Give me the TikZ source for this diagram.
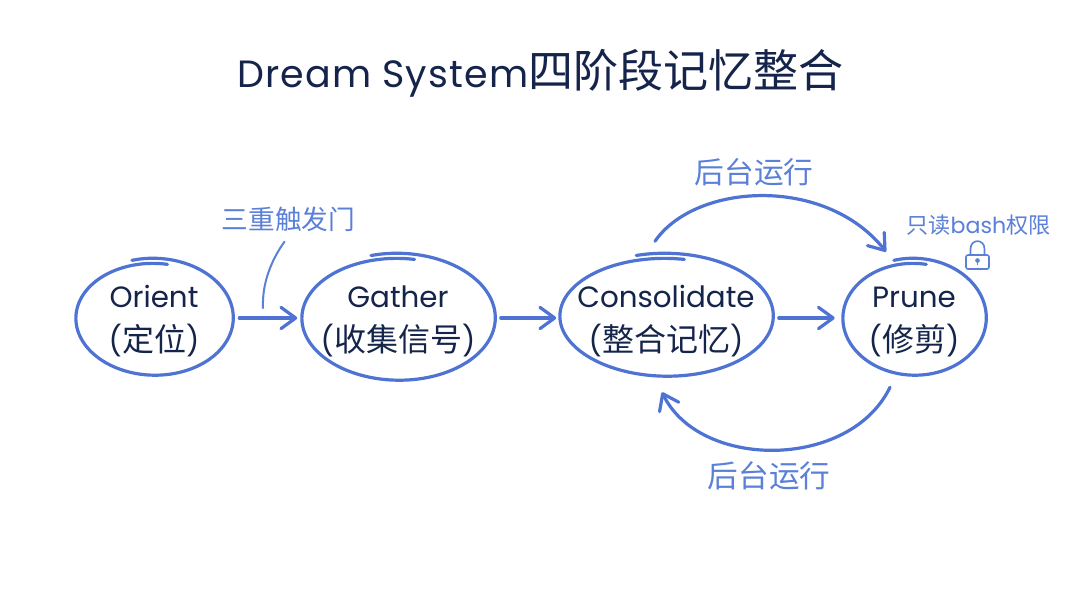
\documentclass[tikz,border=0pt]{standalone}
\usepackage{fontspec}
\setmainfont{Poppins}
\newfontfamily\cjk{Noto Sans CJK SC}
\usetikzlibrary{arrows.meta,shapes.geometric}
\definecolor{ink}{HTML}{15244A}
\definecolor{sky}{HTML}{4E73D3}
\definecolor{skytxt}{HTML}{5B80D8}
\newcommand{\fs}[1]{\fontsize{#1}{#1}\selectfont}
\newcommand{\handring}[4]{%
 \draw[ringline] plot[smooth,samples=70,domain=-106:280] ({#1+(#3+1-2.5*(\x+106)/386)*cos(\x)},{#2+(#4+2-5.5*(\x+106)/386)*sin(\x)});}
\newcommand{\stagetext}[2]{\rule{0pt}{17pt}#1\\[11pt]({\cjk\fs{24}#2})}
\tikzset{
 ringline/.style={draw=sky,line width=2.4pt,line cap=round,line join=round},
 stage/.style={ellipse,inner sep=0pt},
 stagelabel/.style={inner sep=0pt,align=center,text=ink,font=\fs{22},yshift=-2.5pt},
 flow/.style={draw=sky,line width=2.4pt,line cap=round,-{Straight Barb[length=11pt,width=16pt,line width=2.4pt,round]}},
 note/.style={text=skytxt,inner sep=0pt},
 leader/.style={draw=skytxt,line width=1.5pt,line cap=round},
 lockline/.style={draw=skytxt,line width=1.2pt,line join=round}
}
\begin{document}
\begin{tikzpicture}[x=0.75pt,y=-0.75pt]
\useasboundingbox (0,0) rectangle (1080,589);
\fill[white] (0,0) rectangle (1080,589);
\node[text=ink,inner sep=0pt] (title) at (540.5,73) {\fs{28.5}\addfontfeatures{LetterSpace=3}Dream System{\cjk\fs{33.8}四阶段记忆整合}};
\node[stage,minimum width=158*0.75pt,minimum height=116*0.75pt,label={[stagelabel]center:\stagetext{Orient}{定位}}] (orient) at (154,318) {};
\node[stage,minimum width=195*0.75pt,minimum height=126*0.75pt,label={[stagelabel]center:\stagetext{Gather}{收集信号}}] (gather) at (398,318) {};
\node[stage,minimum width=213*0.75pt,minimum height=122*0.75pt,label={[stagelabel,yshift=-1.5pt]center:\stagetext{Consolidate}{整合记忆}}] (cons) at (666,316) {};
\node[stage,minimum width=144*0.75pt,minimum height=116*0.75pt,label={[stagelabel]center:\stagetext{Prune}{修剪}}] (prune) at (914,318) {};
\handring{154}{318}{79}{58}
\handring{398}{318}{97}{63}
\handring{666}{316}{107}{61}
\handring{914}{318}{72}{58}
\node[note] (trig) at (288.5,219) {\cjk\fs{20}三重触发门};
\node[note] (bgtop) at (754,172) {\cjk\fs{22.3}后台运行};
\node[note] (bgbot) at (769,476) {\cjk\fs{23}后台运行};
\node[note] (ro) at (978.5,225) {\fs{16.6}{\cjk 只读}bash{\cjk 权限}};
\draw[flow] ([shift={(6,0)}]orient.east) -- ([shift={(-3,0)}]gather.west);
\draw[flow] ([shift={(5,0)}]gather.east) -- ([shift={(-3,2)}]cons.west);
\draw[flow] ([shift={(6,2)}]cons.east) -- ([shift={(-7,0)}]prune.west);
\draw[flow] ([shift={(-11,-13.5)}]cons.north) .. controls (695,183) and (825,175) .. ([shift={(-28,-8)}]prune.north);
\draw[flow] ([shift={(-24,11)}]prune.south) .. controls (850,470) and (700,470) .. ([shift={(-4,15)}]cons.south);
\draw[leader] ([shift={(-4,10)}]trig.south) .. controls (270,262) and (262,285) .. (263,308);
% lock
\draw[lockline,rounded corners=1.5pt] (966,255) rectangle (989,269);
\draw[lockline] (970.5,255) -- (970.5,249) .. controls (970.5,238.5) and (984.5,238.5) .. (984.5,249) -- (984.5,255);
\fill[skytxt] (977.5,260.5) circle[radius=2.3];
\draw[skytxt,line width=1pt] (977.5,261) -- (977.5,265);
\end{tikzpicture}
\end{document}
